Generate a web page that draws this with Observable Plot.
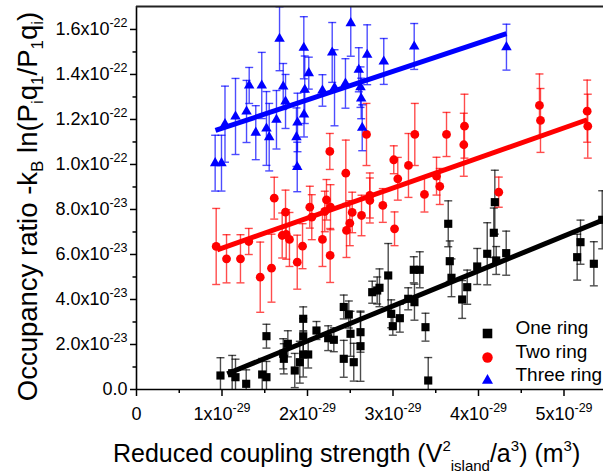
<!DOCTYPE html>
<html>
<head>
<meta charset="utf-8">
<script src="https://cdn.jsdelivr.net/npm/d3@7"></script>
<script src="https://cdn.jsdelivr.net/npm/@observablehq/plot@0.6"></script>
<style>
  html, body { margin: 0; padding: 0; background: #fff; }
  #chart { width: 603px; height: 475px; overflow: hidden; }
</style>
</head>
<body>
<div id="chart"></div>
<script>
// x values in units of 1e-29 m^3, y values (and errors) in units of 1e-23
const seriesNames = ["One ring", "Two ring", "Three ring"];
const seriesColors = ["#000000", "#ff0000", "#0000ff"];
const seriesSymbols = ["square", "circle", "triangle"];

const oneRingX = [0.982,1.119,1.158,1.283,1.470,1.520,1.520,1.716,1.723,1.770,1.851,1.910,1.950,1.950,1.950,2.008,2.105,2.242,2.308,2.424,2.424,2.483,2.503,2.541,2.620,2.620,2.757,2.815,2.842,2.944,2.979,2.998,3.080,3.178,3.243,3.251,3.313,3.380,3.412,3.646,3.664,3.684,3.809,3.868,3.985,4.102,4.179,4.191,4.207,4.324,5.154,5.193,5.349,5.447];
const oneRingY = [0.622,0.724,0.547,0.253,0.667,2.369,0.547,1.587,1.364,2.031,0.844,1.213,3.142,2.356,1.556,1.556,2.622,2.280,2.209,3.667,1.364,3.333,2.476,1.213,2.547,1.924,4.324,4.400,4.520,5.067,3.364,2.813,3.169,4.031,5.320,3.880,5.320,2.769,0.400,7.364,5.702,4.964,4.000,4.547,5.467,6.031,6.964,8.324,5.733,6.058,5.880,6.547,5.587,7.542];
const oneRingErr = [0.79,0.79,0.80,0.62,0.71,0.53,0.70,0.67,0.67,0.58,0.76,0.93,0.53,0.80,1.00,0.60,0.40,0.55,0.53,0.53,0.82,0.60,1.00,0.84,0.89,1.56,0.49,0.60,0.84,1.42,0.62,0.40,0.62,0.49,0.58,0.80,0.80,0.62,1.02,1.02,0.90,0.84,0.84,0.76,0.80,1.38,1.10,1.42,0.62,0.98,1.02,0.98,0.98,1.29];

const twoRingX = [0.932,1.053,1.216,1.313,1.447,1.579,1.611,1.704,1.743,1.751,1.789,1.880,1.942,2.027,2.050,2.175,2.202,2.222,2.261,2.265,2.269,2.448,2.456,2.495,2.523,2.632,2.690,2.729,2.729,2.881,3.009,3.018,3.056,3.181,3.255,3.368,3.509,3.547,3.626,3.828,3.836,4.237,4.713,4.725,5.271,5.278];
const twoRingY = [6.356,5.809,5.809,6.578,4.991,5.391,8.502,6.844,7.880,6.889,6.667,5.658,6.369,8.102,7.658,6.667,7.911,8.431,10.578,5.956,8.102,9.613,7.067,7.391,7.867,7.733,11.333,8.622,8.400,8.178,10.209,7.142,9.364,9.956,11.333,8.667,9.480,9.022,11.333,10.876,11.702,8.769,12.622,11.956,12.369,11.702];
const twoRingErr = [1.69,1.07,1.07,0.58,1.56,1.51,0.93,1.00,0.98,1.10,1.20,1.20,1.00,0.93,1.00,1.20,0.90,0.90,0.80,1.20,1.00,1.47,1.20,1.00,0.90,0.90,1.38,1.00,1.00,0.75,0.62,0.75,0.95,1.42,1.38,0.78,0.84,0.80,0.98,1.40,1.42,0.67,1.40,1.42,1.38,1.42];

const threeRingX = [0.920,0.994,1.035,1.158,1.287,1.318,1.395,1.465,1.520,1.552,1.637,1.673,1.716,1.743,1.871,1.883,1.880,1.957,1.959,1.968,2.015,2.175,2.289,2.316,2.444,2.506,2.600,2.620,2.628,2.640,2.698,2.892,3.248,4.327];
const threeRingY = [10.058,10.058,11.791,12.133,12.356,13.511,11.413,13.511,11.600,11.213,11.987,15.587,13.467,12.800,11.213,11.867,9.889,15.187,12.222,13.320,14.058,13.289,14.978,13.409,13.600,16.280,14.209,13.436,12.933,11.631,14.876,14.578,15.244,15.213];
const threeRingErr = [1.24,1.24,1.69,1.69,1.38,0.80,1.20,1.47,1.64,1.50,1.30,1.42,1.02,1.20,1.30,1.30,1.10,1.38,1.00,1.50,0.71,0.70,1.33,1.69,1.10,1.47,0.98,0.90,0.90,1.02,1.33,1.02,1.02,1.02];

// linear fit end points (same units)
const fitX1 = [1.061, 0.944, 0.924];
const fitY1 = [0.698, 6.209, 11.51];
const fitX2 = [5.462, 5.271, 4.327];
const fitY2 = [7.542, 11.987, 15.81];

const xTicks = [0, 1, 2, 3, 4, 5];
const xTickLabels = ["0", "1x10^-29", "2x10^-29", "3x10^-29", "4x10^-29", "5x10^-29"];
const xMinorTicks = [0.5, 1.5, 2.5, 3.5, 4.5];
const yTicks = [0, 2, 4, 6, 8, 10, 12, 14, 16];
const yTickLabels = ["0.0", "2.0x10^-23", "4.0x10^-23", "6.0x10^-23", "8.0x10^-23", "1.0x10^-22", "1.2x10^-22", "1.4x10^-22", "1.6x10^-22"];
const yMinorTicks = [1, 3, 5, 7, 9, 11, 13, 15];
const xMax = 5.462, yMax = 17.02;

const allX = [oneRingX, twoRingX, threeRingX];
const allY = [oneRingY, twoRingY, threeRingY];
const allE = [oneRingErr, twoRingErr, threeRingErr];
const tables = seriesNames.map((s, k) => allX[k].map((x, i) => ({series: s, x, y: allY[k][i], e: allE[k][i]})));
const fits = seriesNames.map((s, k) => ({series: s, x1: fitX1[k], y1: fitY1[k], x2: fitX2[k], y2: fitY2[k]}));

const capSymbol = { draw(ctx) { ctx.moveTo(-4, 0); ctx.lineTo(4, 0); } };

const marks = [];
tables.forEach((rows, k) => {
  const c = seriesColors[k];
  marks.push(Plot.ruleX(rows, {x: "x", y1: d => d.y - d.e, y2: d => d.y + d.e, stroke: c, strokeWidth: 1.4, strokeOpacity: 0.7, clip: true}));
  marks.push(Plot.dot(rows, {x: "x", y: d => d.y + d.e, symbol: capSymbol, stroke: c, fill: "none", strokeWidth: 1.4, strokeOpacity: 0.7, clip: true}));
  marks.push(Plot.dot(rows, {x: "x", y: d => d.y - d.e, symbol: capSymbol, stroke: c, fill: "none", strokeWidth: 1.4, strokeOpacity: 0.7, clip: true}));
});
tables.forEach((rows, k) => {
  const r = seriesSymbols[k] === "square" ? 4.6 : seriesSymbols[k] === "circle" ? 4.4 : 3.9;
  marks.push(Plot.dot(rows, {x: "x", y: "y", symbol: seriesSymbols[k], r, fill: seriesColors[k], stroke: "none"}));
});
fits.forEach((f, k) => {
  marks.push(Plot.link([f], {x1: "x1", y1: "y1", x2: "x2", y2: "y2", stroke: seriesColors[k], strokeWidth: 5}));
});
// legend
const legendDy = [-56, -32, -9];
seriesNames.forEach((s, k) => {
  const r = seriesSymbols[k] === "square" ? 5.4 : seriesSymbols[k] === "circle" ? 5.2 : 4.1;
  marks.push(Plot.dot([s], {frameAnchor: "bottom-right", dx: -116, dy: legendDy[k], symbol: seriesSymbols[k], r, fill: seriesColors[k], stroke: "none"}));
  marks.push(Plot.text([s], {frameAnchor: "bottom-right", dx: -88, dy: legendDy[k], text: d => d, textAnchor: "start", fontSize: 19, fill: "#000"}));
});
// axes
marks.push(Plot.axisX({ticks: xTicks, tickSize: 7, tickPadding: 11, tickFormat: d => xTickLabels[xTicks.indexOf(d)], fontSize: 18, label: null, strokeWidth: 1.5}));
marks.push(Plot.axisX({ticks: xMinorTicks, tickSize: 4, tickFormat: () => "", label: null, strokeWidth: 1.5}));
marks.push(Plot.axisY({ticks: yTicks, tickSize: 6, tickPadding: 3, tickFormat: d => yTickLabels[yTicks.indexOf(d)], fontSize: 18, label: null, strokeWidth: 1.5}));
marks.push(Plot.axisY({ticks: yMinorTicks, tickSize: 3.5, tickFormat: () => "", label: null, strokeWidth: 1.5}));
marks.push(Plot.ruleX([0], {stroke: "#000", strokeWidth: 1.6}));
marks.push(Plot.ruleY([0], {stroke: "#000", strokeWidth: 1.6}));
marks.push(Plot.ruleY([yMax], {stroke: "#222", strokeWidth: 1.8}));

const svg = Plot.plot({
  width: 603, height: 475,
  marginLeft: 136, marginRight: 0, marginTop: 6, marginBottom: 86,
  x: {domain: [0, xMax]},
  y: {domain: [0, yMax]},
  style: {fontFamily: "'Liberation Sans', Arial, sans-serif", fontSize: "18px", color: "#000", background: "#fff", overflow: "hidden"},
  marks
});

// superscripts in tick labels
d3.select(svg).selectAll("text").each(function() {
  const t = this.textContent;
  if (!t.includes("^")) return;
  const [base, exp] = t.split("^");
  const sel = d3.select(this);
  sel.text(null);
  sel.append("tspan").text(base);
  sel.append("tspan").attr("font-size", 12.5).attr("dy", -8).text(exp);
});

function richText(sel, parts) {
  let cur = 0;
  parts.forEach(([txt, size, shift]) => {
    sel.append("tspan").attr("font-size", size).attr("dy", shift - cur).text(txt);
    cur = shift;
  });
}
const g = d3.select(svg);
const xt = g.append("text").attr("x", 113).attr("y", 461.5).attr("font-size", 25).attr("fill", "#000").attr("text-anchor", "start");
richText(xt, [["Reduced coupling strength (V", 25, 0], ["2", 15, -11], ["island", 15, 9], ["/a", 25, 0], ["3", 15, -11], [") (m", 25, 0], ["3", 15, -11], [")", 25, 0]]);
const yt = g.append("text").attr("transform", "translate(37,206.5) rotate(-90)").attr("font-size", 27.5).attr("fill", "#000").attr("text-anchor", "middle");
richText(yt, [["Occupancy ratio -k", 27.5, 0], ["B", 17, 6], [" ln(P", 27.5, 0], ["i", 17, 6], ["q", 27.5, 0], ["1", 17, 6], ["/P", 27.5, 0], ["1", 17, 6], ["q", 27.5, 0], ["i", 17, 6], [")", 27.5, 0]]);

document.getElementById("chart").appendChild(svg);
</script>
</body>
</html>
